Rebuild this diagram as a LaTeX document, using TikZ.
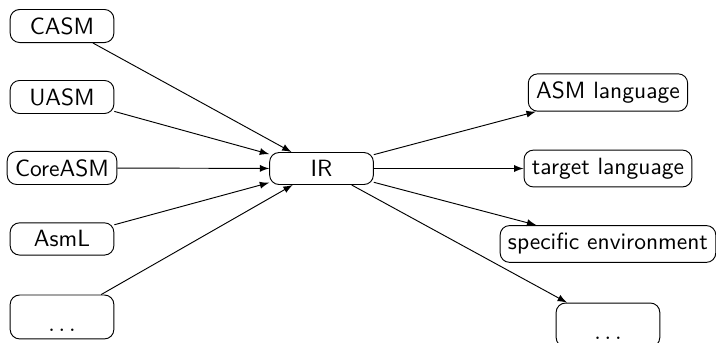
\documentclass[tikz,border=0pt]{standalone}
\usepackage{amsmath,amssymb}
\usetikzlibrary{positioning,arrows}
\tikzset{%
  lang/.style={draw, rectangle, rounded corners, font=\sffamily, minimum width=1.55cm},% source / target box
  more/.style={lang, align=center},% box with the dots at its foot
  conv/.style={->, >=latex}% translation arrow
}

\begin{document}
\begin{tikzpicture}
\useasboundingbox (0,0) rectangle (10.703,-5.127);

% front ends
\node[lang] (casm) at (0.927, -0.389) {CASM};
\node[lang] (uasm) at (0.927, -1.450) {UASM};
\node[lang] (core) at (0.927, -2.511) {CoreASM};
\node[lang] (asml) at (0.927, -3.572) {AsmL};
\node[more] (lmore) at (0.927, -4.738) {\mbox{}\\$\ldots$};

% intermediate representation
\node[lang] (ir) at (4.806, -2.519) {IR};

% back ends
\node[lang] (asm) at (9.088, -1.383) {ASM language};
\node[lang] (tgt) at (9.088, -2.519) {target language};
\node[lang] (env) at (9.088, -3.647) {specific environment};
\node[more] (rmore) at (9.088, -4.858) {\mbox{}\\$\ldots$};

\draw[conv] (casm) edge (ir);
\draw[conv] (uasm) edge (ir);
\draw[conv] (core) edge (ir);
\draw[conv] (asml) edge (ir);
\draw[conv] (lmore) edge (ir);

\draw[conv] (ir) edge (asm);
\draw[conv] (ir) edge (tgt);
\draw[conv] (ir) edge (env);
\draw[conv] (ir) edge (rmore);

\end{tikzpicture}
\end{document}
